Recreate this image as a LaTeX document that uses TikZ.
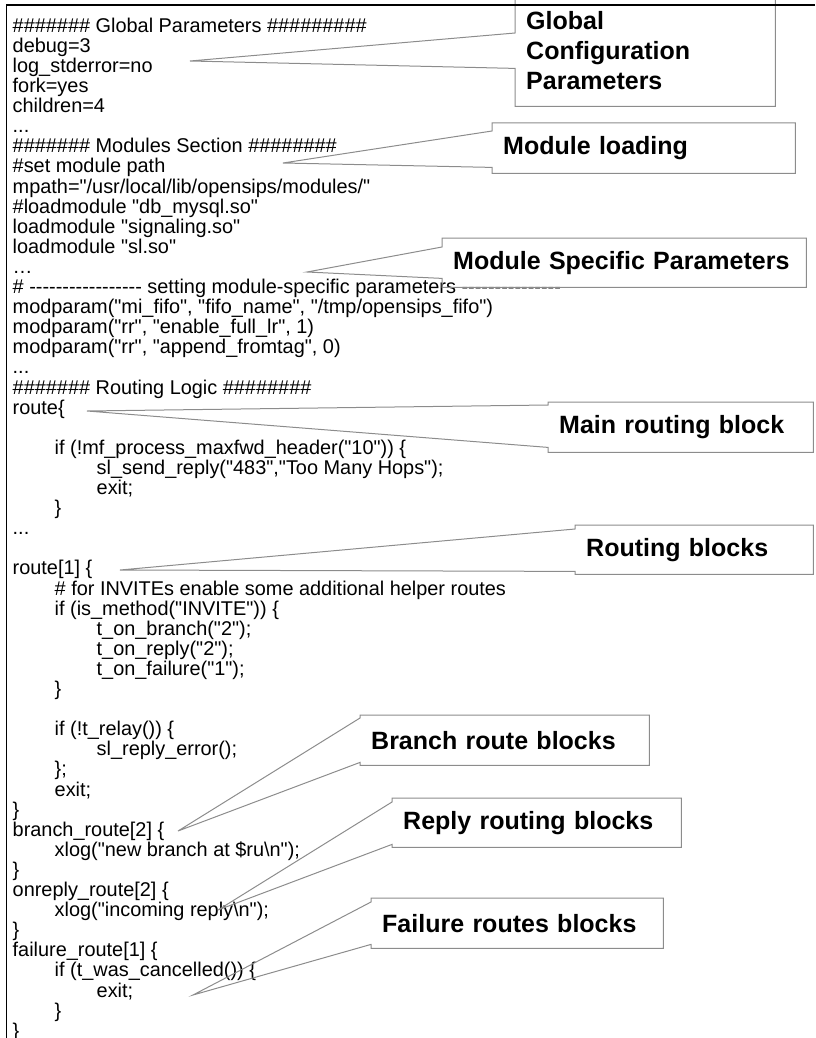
\documentclass[tikz,border=0pt]{standalone}
\usepackage{fontspec}
\setmainfont{Liberation Sans}
\newfontfamily\codefont{Liberation Sans}
\usepackage{tikz}

\newcommand\tb{\hspace*{42pt}}
\newcommand\dashrun[1]{\foreach \k in {1,...,#1}{-}}
\newcommand\bubble[4]{%
  \draw[balloon] (#1.north east) -- (#1.north west) -- ([yshift=-#3pt]#1.north west)
    -- (#2) -- ([yshift=#4pt]#1.south west) -- (#1.south west) -- (#1.south east) -- cycle;}

\begin{document}
\begin{tikzpicture}[
  x=1pt, y=-1pt,
  code/.style={anchor=north west, inner sep=0pt, align=left,
               font=\codefont\fontsize{19.9}{20.1}\selectfont},
  tag/.style={anchor=north west, inner xsep=11pt, inner ysep=0pt, align=left,
              font=\bfseries\fontsize{25}{30}\selectfont},
  balloon/.style={draw=black!45, line width=1pt, line join=miter},
  frame/.style={draw=black, line width=1.2pt}
]
\useasboundingbox (0,0) rectangle (815,1038);
\clip (0,0) rectangle (815,1038);

\node[code] (listing) at (12.5,17) {%
\rule{0pt}{15pt}\#\#\#\#\#\#\# Global Parameters \#\#\#\#\#\#\#\#\#\\
debug=3\\
log\_stderror=no\\
fork=yes\\
children=4\\
...\\
\#\#\#\#\#\#\# Modules Section \#\#\#\#\#\#\#\#\\
\#set module path\\
mpath="/usr/local/lib/opensips/modules/"\\
\#loadmodule "db\_mysql.so"\\
loadmodule "signaling.so"\\
loadmodule "sl.so"\\
…\\
\# \dashrun{17} setting module-specific parameters \dashrun{15}\\
modparam("mi\_fifo", "fifo\_name", "/tmp/opensips\_fifo")\\
modparam("rr", "enable\_full\_lr", 1)\\
modparam("rr", "append\_fromtag", 0)\\
...\\
\#\#\#\#\#\#\# Routing Logic \#\#\#\#\#\#\#\#\\
route\{\\
\mbox{}\\
\tb if (!mf\_process\_maxfwd\_header("10")) \{\\
\tb\tb sl\_send\_reply("483","Too Many Hops");\\
\tb\tb exit;\\
\tb \}\\
...\\
\mbox{}\\
route[1] \{\\
\tb \# for INVITEs enable some additional helper routes\\
\tb if (is\_method("INVITE")) \{\\
\tb\tb t\_on\_branch("2");\\
\tb\tb t\_on\_reply("2");\\
\tb\tb t\_on\_failure("1");\\
\tb \}\\
\mbox{}\\
\tb if (!t\_relay()) \{\\
\tb\tb sl\_reply\_error();\\
\tb \};\\
\tb exit;\\
\}\\
branch\_route[2] \{\\
\tb xlog("new branch at \$ru\textbackslash n");\\
\}\\
onreply\_route[2] \{\\
\tb xlog("incoming reply\textbackslash n");\\
\}\\
failure\_route[1] \{\\
\tb if (t\_was\_cancelled()) \{\\
\tb\tb exit;\\
\tb \}\\
\}};

\node[tag, text width=238pt, minimum height=112pt] (glob)    at (515,-6)  {Global\\Configuration\\Parameters};
\node[tag, text width=281pt, minimum height=50pt]  (modload) at (492,123) {Module loading};
\node[tag, text width=342pt, minimum height=49pt]  (modpar)  at (442,238) {Module Specific Parameters};
\node[tag, text width=243pt, minimum height=50pt]  (mainrt)  at (548,402) {Main routing block};
\node[tag, text width=216pt, minimum height=49pt]  (rtblk)   at (575,525) {Routing blocks};
\node[tag, text width=267pt, minimum height=50pt]  (branch)  at (360,715) {Branch route blocks};
\node[tag, text width=267pt, minimum height=49pt]  (reply)   at (392,798) {Reply routing blocks};
\node[tag, text width=270pt, minimum height=50pt]  (fail)    at (371,898) {Failure routes blocks};

\coordinate (tglob)    at (190,61);
\coordinate (tmodload) at (283,163);
\coordinate (tmodpar)  at (307,272);
\coordinate (tmainrt)  at (87,411);
\coordinate (trtblk)   at (120,570);
\coordinate (tbranch)  at (178,831);
\coordinate (treply)   at (218,910);
\coordinate (tfail)    at (193,995);

\bubble{glob}{tglob}{39}{38}
\bubble{modload}{tmodload}{8}{6}
\bubble{modpar}{tmodpar}{9}{9}
\bubble{mainrt}{tmainrt}{3}{5}
\bubble{rtblk}{trtblk}{4}{3}
\bubble{branch}{tbranch}{3}{3}
\bubble{reply}{treply}{4}{3}
\bubble{fail}{tfail}{4}{4}

\draw[frame] (6.5,1038) -- (6.5,5) -- (815,5);
\end{tikzpicture}
\end{document}
